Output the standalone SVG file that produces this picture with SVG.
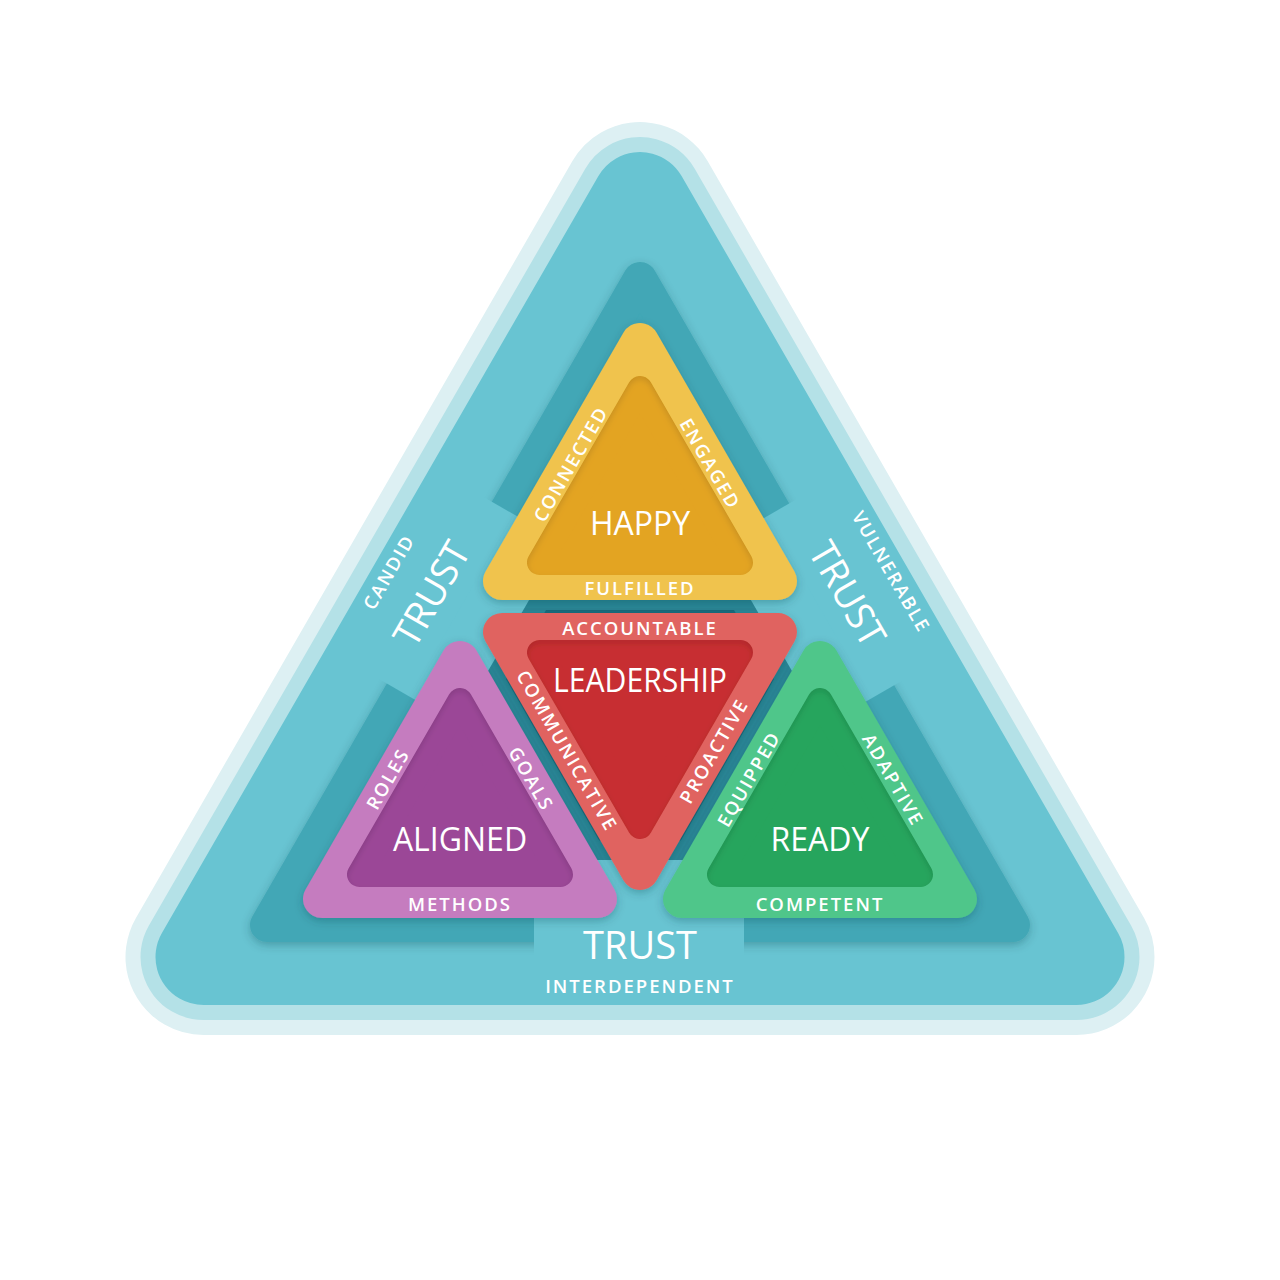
<svg xmlns="http://www.w3.org/2000/svg" width="1280" height="1280" viewBox="0 0 1280 1280">
<style>
.rt{stroke-linejoin:round}
.big{font-family:"Open Sans","Liberation Sans",sans-serif;fill:#fff;text-anchor:middle;font-size:32px}
.lbl{font-family:"Open Sans","Liberation Sans",sans-serif;fill:#fff;text-anchor:middle;font-size:18.5px;font-weight:600;letter-spacing:2px}
.trust{font-family:"Open Sans","Liberation Sans",sans-serif;fill:#fff;text-anchor:middle;font-size:38px}
</style>
<defs>
<filter id="ds" x="-20%" y="-20%" width="140%" height="140%">
<feDropShadow dx="0" dy="3" stdDeviation="4" flood-color="#0b3f4a" flood-opacity="0.3"/>
</filter>
<filter id="ins" x="-10%" y="-10%" width="120%" height="120%">
<feFlood flood-color="#000" flood-opacity="0.28"/>
<feComposite operator="out" in2="SourceGraphic"/>
<feOffset dy="3"/>
<feGaussianBlur stdDeviation="3"/>
<feComposite operator="atop" in2="SourceGraphic"/>
</filter>
<mask id="cuts">
<rect x="0" y="0" width="1280" height="1280" fill="#fff"/>
<rect x="534" y="820" width="210" height="220" fill="#000"/>
<rect x="534" y="820" width="210" height="220" fill="#000" transform="rotate(120 640 709.7)"/>
<rect x="534" y="820" width="210" height="220" fill="#000" transform="rotate(240 640 709.7)"/>
</mask>
</defs>

<g id="background">
<polygon class="rt" points="640,200 203.5,957 1076.5,957" fill="#ddf0f3" stroke="#ddf0f3" stroke-width="156"/>
<polygon class="rt" points="640,200 203.5,957 1076.5,957" fill="#b4e1e7" stroke="#b4e1e7" stroke-width="126"/>
<polygon class="rt" points="640,200 203.5,957 1076.5,957" fill="#68c4d2" stroke="#68c4d2" stroke-width="96"/>
<g mask="url(#cuts)">
<polygon class="rt" points="640,279 267,925 1013,925" fill="#42a7b6" stroke="#42a7b6" stroke-width="34" filter="url(#ds)"/>
</g>
<polygon points="532,595 748,595 794,674.5 687,860 593,860 486,674.5" fill="#2a8797"/>
<polygon points="532,595 748,595 794,674.5 687,860 593,860 486,674.5" fill="#176a7c" transform="translate(640 710) scale(0.87) translate(-640 -710)"/>
</g>

<g id="trust-labels">
<text class="trust" x="640" y="959">TRUST</text>
<text class="lbl" x="640" y="993">INTERDEPENDENT</text>
<text class="trust" transform="translate(432 594) rotate(-60)" y="13">TRUST</text>
<text class="lbl" transform="translate(389 572) rotate(-60)" y="6.5">CANDID</text>
<text class="trust" transform="translate(847 594) rotate(60)" y="13">TRUST</text>
<text class="lbl" transform="translate(891 572) rotate(60)" y="6.5">VULNERABLE</text>
</g>

<g id="happy">
<polygon class="rt" points="640,342 502,581 778,581" fill="#f0c34e" stroke="#f0c34e" stroke-width="38" filter="url(#ds)"/>
<polygon class="rt" points="640,388.5 539.5,562.5 740.5,562.5" fill="#e3a423" stroke="#e3a423" stroke-width="25" filter="url(#ins)"/>
<text class="big" x="640" y="535">HAPPY</text>
<text class="lbl" x="640" y="594.5">FULFILLED</text>
<text class="lbl" transform="translate(571 464) rotate(-60)" y="6.5">CONNECTED</text>
<text class="lbl" transform="translate(710 464) rotate(60)" y="6.5">ENGAGED</text>
</g>

<g id="leadership">
<polygon class="rt" points="502,632 778,632 640,871" fill="#e06461" stroke="#e06461" stroke-width="38" filter="url(#ds)"/>
<polygon class="rt" points="539.5,652.5 740.5,652.5 640,826.5" fill="#c72f31" stroke="#c72f31" stroke-width="25" filter="url(#ins)"/>
<text class="big" x="640" y="692" textLength="174" lengthAdjust="spacingAndGlyphs">LEADERSHIP</text>
<text class="lbl" x="640" y="634.5">ACCOUNTABLE</text>
<text class="lbl" transform="translate(567 751) rotate(60)" y="6.5">COMMUNICATIVE</text>
<text class="lbl" transform="translate(714 751) rotate(-60)" y="6.5">PROACTIVE</text>
</g>

<g id="aligned">
<polygon class="rt" points="460,660 322,899 598,899" fill="#c57bbf" stroke="#c57bbf" stroke-width="38" filter="url(#ds)"/>
<polygon class="rt" points="460,700.5 359.5,874.5 560.5,874.5" fill="#9b4797" stroke="#9b4797" stroke-width="25" filter="url(#ins)"/>
<text class="big" x="460" y="851">ALIGNED</text>
<text class="lbl" x="460" y="910.5">METHODS</text>
<text class="lbl" transform="translate(388 779) rotate(-60)" y="6.5">ROLES</text>
<text class="lbl" transform="translate(531 779) rotate(60)" y="6.5">GOALS</text>
</g>

<g id="ready">
<polygon class="rt" points="820,660 682,899 958,899" fill="#4fc68a" stroke="#4fc68a" stroke-width="38" filter="url(#ds)"/>
<polygon class="rt" points="820,700.5 719.5,874.5 920.5,874.5" fill="#26a55d" stroke="#26a55d" stroke-width="25" filter="url(#ins)"/>
<text class="big" x="820" y="851">READY</text>
<text class="lbl" x="820" y="910.5">COMPETENT</text>
<text class="lbl" transform="translate(749 779) rotate(-60)" y="6.5">EQUIPPED</text>
<text class="lbl" transform="translate(893 780) rotate(60)" y="6.5">ADAPTIVE</text>
</g>

<g id="connectors"></g>
</svg>
